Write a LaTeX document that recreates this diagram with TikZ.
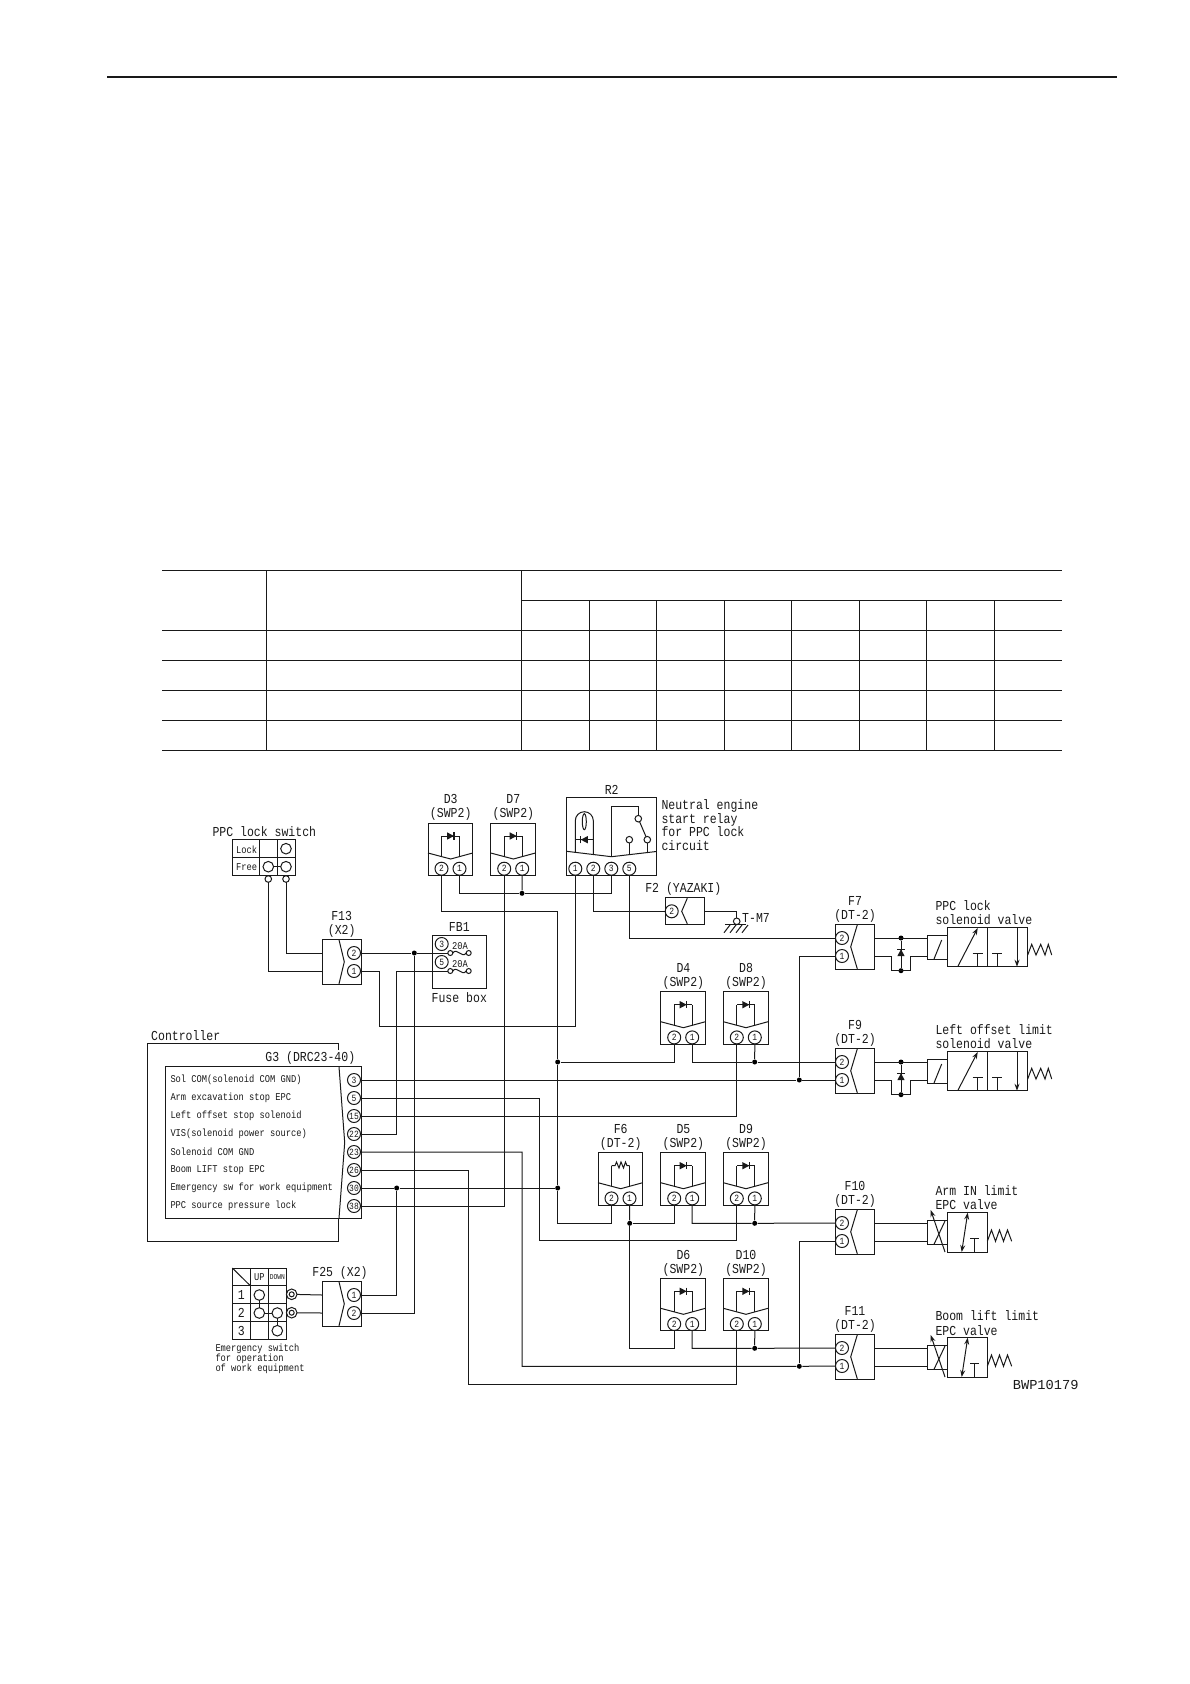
\documentclass[tikz,border=0pt]{standalone}
\usepackage{fontspec}
\usepackage{tikz}
\usetikzlibrary{arrows.meta}
\newfontfamily\gothicface[FakeStretch=0.84]{Liberation Mono}
\newfontfamily\codeface{Liberation Mono}
\newcommand{\lblfont}{\gothicface\fontsize{13.7}{14.2}\selectfont}
\newcommand{\smlfont}{\gothicface\fontsize{10.4}{10.2}\selectfont}
\newcommand{\pinfont}{\gothicface\fontsize{9.5}{10}\selectfont}
\newcommand{\tinyfont}{\gothicface\fontsize{7.5}{8}\selectfont}
\tikzset{
  >={Stealth[length=7pt, width=5pt, inset=2.5pt]},
  boxn/.style = {draw, rectangle, anchor=north west, inner sep=0pt, outer sep=0pt},
  pinc/.style = {draw, circle, inner sep=0pt, outer sep=0pt, minimum size=13pt, font=\pinfont},
  hole/.style = {draw, circle, inner sep=0pt, outer sep=0pt, minimum size=6.6pt},
  ring/.style = {draw, circle, inner sep=0pt, outer sep=0pt, minimum size=10.6pt},
  dotn/.style = {circle, fill=black, inner sep=0pt, minimum size=5pt},
  fusen/.style = {draw, circle, inner sep=0pt, outer sep=0pt, minimum size=5pt},
  lbl/.style = {font=\lblfont, inner sep=0pt, align=center},
  lbll/.style = {font=\lblfont, inner sep=0pt, align=left, anchor=west},
  sml/.style = {font=\smlfont, inner sep=0pt, align=left},
  diode/.pic = {\fill (-3.5,-3.7) -- (3.5,0) -- (-3.5,3.7) -- cycle; \draw[line width=1.2pt] (3.5,-3.7) -- (3.5,3.7);}
}
% two pin plug, pins on the right side of the box
\newcommand{\rconn}[5]{
  \begin{scope}[shift={(#2,#3)}]
    \node[boxn, minimum width=39pt, minimum height=45pt] (#1) at (0,0) {};
    \draw (17,0.5) -- (22.3,22.5) -- (17,44.5);
    \node[pinc] (#1p#4) at (32,13.7) {#4};
    \node[pinc] (#1p#5) at (32,31.7) {#5};
  \end{scope}
}
% two pin plug, pins on the left side of the box
\newcommand{\lconn}[3]{
  \begin{scope}[shift={(#2,#3)}]
    \node[boxn, minimum width=39pt, minimum height=45pt] (#1) at (0,0) {};
    \draw (22,0.5) -- (15.4,22.5) -- (22,44.5);
    \node[pinc] (#1p2) at (6.7,13.7) {2};
    \node[pinc] (#1p1) at (6.7,31.7) {1};
  \end{scope}
}
% plug-in block without its inner part
\newcommand{\plugbox}[4]{
  \begin{scope}[shift={(#2,#3)}]
    \node[boxn, minimum width=44.7pt, minimum height=52.3pt] (#1) at (0,0) {};
    \node[lbl] at (22.7,-15.3) {#4};
    \draw (0,30) -- (22.7,36) -- (44.7,30);
    \node[pinc] (#1p2) at (13.5,45.7) {2};
    \node[pinc] (#1p1) at (31.5,45.7) {1};
    \draw (13.5,33.6) -- (13.5,13) (31.5,33.6) -- (31.5,13);
  \end{scope}
}
\newcommand{\swpbox}[4]{
  \plugbox{#1}{#2}{#3}{#4\\(SWP2)}
  \begin{scope}[shift={(#2,#3)}]
    \draw (13.5,13) -- (31.5,13);
    \pic at (22.5,13) {diode};
  \end{scope}
}
% solenoid valve with two ports
\newcommand{\lockvalve}[2]{
  \begin{scope}[shift={(0,#2)}]
    \node[boxn, minimum width=19.6pt, minimum height=24pt] (#1sol) at (927.7,935) {};
    \node[boxn, minimum width=80.4pt, minimum height=39.4pt] (#1vlv) at (947.3,927.3) {};
    \draw (934,959) -- (941.7,940);
    \draw (987.3,927.3) -- (987.3,966.7);
    \draw[->] (957.7,966.7) -- (977.7,928);
    \draw (977.7,966.7) -- (977.7,953.3) (972.7,953.3) -- (982.7,953.3);
    \draw (997.3,966.7) -- (997.3,953.3) (992.3,953.3) -- (1002.3,953.3);
    \draw[->] (1017,927.3) -- (1017,966.7);
    \draw (1027.7,955) -- (1031.7,944.3) -- (1036,955) -- (1040.7,944.3) -- (1045,955) -- (1048.3,944.3) -- (1051.7,955);
    \node[dotn] (#1ja) at (901,938) {};
    \node[dotn] (#1jb) at (901,970.7) {};
    \coordinate (#1ca) at (891.7,956);
    \coordinate (#1cb) at (891.7,970.7);
    \coordinate (#1cc) at (910,970.7);
    \coordinate (#1cd) at (910,956);
    \draw (#1ja) -- (#1jb);
    \pic[rotate=90] at (901,952.7) {diode};
  \end{scope}
  \draw (#1p2 -| #1.east) -- (#1p2 -| #1sol.west);
  \draw (#1p1 -| #1.east) -- (#1ca) -- (#1cb) -- (#1cc) -- (#1cd) -- (#1p1 -| #1sol.west);
}
% EPC valve
\newcommand{\epcvalve}[2]{
  \begin{scope}[shift={(0,#2)}]
    \node[boxn, minimum width=20pt, minimum height=24pt] (#1sol) at (927.3,1220.3) {};
    \node[boxn, minimum width=40pt, minimum height=39.7pt] (#1vlv) at (947.3,1212.3) {};
    \draw[->] (945,1252) -- (930.7,1210);
    \draw (945,1221) -- (934,1244.3);
    \draw[<->] (961.7,1252) -- (967.7,1212.7);
    \draw (974.7,1252) -- (974.7,1238.3) (970,1238.3) -- (979,1238.3);
    \draw (987.3,1241.3) -- (991.5,1230) -- (995.5,1241.3) -- (999.5,1230) -- (1003.5,1241.3) -- (1007.5,1230) -- (1011.7,1241.3);
  \end{scope}
  \draw (#1p2 -| #1.east) -- (#1p2 -| #1sol.west);
  \draw (#1p1 -| #1.east) -- (#1p1 -| #1sol.west);
}

\begin{document}
\begin{tikzpicture}[x=1pt, y=-1pt, line width=1pt, color=black!90]
\useasboundingbox (0,0) rectangle (1190,1684);
% page rule and empty table
\draw[line width=1.2pt] (107,77) -- (1117,77);
\foreach \ty in {570.3,630.3,660.3,690.3,720.3,750.3}
  \draw (162,\ty) -- (1062,\ty);
\draw (521.3,600.4) -- (1062,600.4);
\foreach \tx in {266.7,521.3}
  \draw (\tx,570.3) -- (\tx,750.3);
\foreach \tx in {589.3,656.5,724.3,791.7,859.3,926.3,994.3}
  \draw (\tx,600.4) -- (\tx,750.3);

% PPC lock switch
\node[lbl] at (264.3,831.7) {PPC lock switch};
\node[boxn, minimum width=63pt, minimum height=36pt] (sw) at (232.3,839.3) {};
\draw (232.3,857.3) -- (295.3,857.3) (259.3,839.3) -- (259.3,875.3) (277.3,839.3) -- (277.3,875.3);
\node[sml] at (246.7,849.3) {Lock};
\node[sml] at (246.7,867) {Free};
\node[ring] (swa) at (286,848.7) {};
\node[ring] (swb) at (268.3,866.7) {};
\node[ring] (swc) at (286,866.7) {};
\draw (swb) -- (swc);
\node[hole] (swd) at (268.3,879) {};
\node[hole] (swe) at (286,879) {};

% connectors
\rconn{f13}{322}{939.3}{2}{1}
\node[lbl] at (341.7,924) {F13\\(X2)};
\rconn{f25}{322}{1281.3}{1}{2}
\node[lbl] at (340,1273.3) {F25 (X2)};
\lconn{f7}{835.3}{924.3}
\node[lbl] at (855,909) {F7\\(DT-2)};
\lconn{f9}{835.3}{1048.3}
\node[lbl] at (855,1033) {F9\\(DT-2)};
\lconn{f10}{835.3}{1209.3}
\node[lbl] at (855,1194) {F10\\(DT-2)};
\lconn{f11}{835.3}{1334.3}
\node[lbl] at (855,1319) {F11\\(DT-2)};

% diode blocks
\swpbox{d3}{428}{823}{D3}
\swpbox{d7}{490.7}{823}{D7}
\swpbox{d4}{660.7}{991.7}{D4}
\swpbox{d8}{723.3}{991.7}{D8}
\swpbox{d5}{660.7}{1152.7}{D5}
\swpbox{d9}{723.3}{1152.7}{D9}
\swpbox{d6}{660.7}{1278.3}{D6}
\swpbox{d10}{723.3}{1278.3}{D10}
\plugbox{f6}{598}{1152.7}{F6\\(DT-2)}
\draw (611.5,1165.7) -- (615,1165.7) -- (616.5,1162) -- (619,1168) -- (621,1162) -- (623.5,1168) -- (625.5,1162) -- (627,1165.7) -- (629.5,1165.7);

% relay R2
\node[lbl] at (611.7,790) {R2};
\node[boxn, minimum width=89.6pt, minimum height=77.6pt] (r2) at (566.7,797.7) {};
\draw (566.7,851.3) -- (611.5,856.7) -- (656.3,851.5);
\node[pinc] (r2p1) at (575.3,868.7) {1};
\node[pinc] (r2p2) at (593.3,868.7) {2};
\node[pinc] (r2p3) at (611.3,868.7) {3};
\node[pinc] (r2p5) at (629.3,868.7) {5};
\draw (575.3,852.5) -- (575.3,820.7) arc[start angle=180, end angle=360, x radius=9, y radius=9] -- (593.3,854.3);
\draw (584.3,821.7) ellipse[x radius=2, y radius=8];
\draw (575.3,839.7) -- (593.3,839.7);
\pic[rotate=180] at (584.3,839.7) {diode};
\node[hole] (r2a) at (638.3,818.7) {};
\node[hole] (r2b) at (647.3,839.7) {};
\node[hole] (r2c) at (629.3,839.7) {};
\draw (611.5,856.7) -- (611.5,806.7) -- (638.3,806.7) -- (r2a);
\draw (r2a) -- (r2b);
\draw (r2b) -- (647.3,852.3);
\draw (r2c) -- (629.3,854.5);
\node[lbll] at (661,825) {Neutral engine\\[-0.8pt]start relay\\[-0.8pt]for PPC lock\\[-0.8pt]circuit};

% relay F2 and earth
\node[lbl] at (683.3,889.3) {F2 (YAZAKI)};
\node[boxn, minimum width=39.3pt, minimum height=26.6pt] (f2) at (665,897.7) {};
\node[pinc] (f2p2) at (671.7,911.3) {2};
\draw (687.3,898.2) -- (681.7,911.3) -- (687.3,923.8);
\node[hole] (tm7) at (736.7,921.3) {};
\draw (725,924.8) -- (745.7,924.8);
\foreach \hx in {732,738,744,750}
  \draw (\hx-2,925) -- (\hx-8,932.7);
\node[lbll] at (741.7,917.7) {T-M7};

% fuse box
\node[lbl] at (459.3,926.7) {FB1};
\node[boxn, minimum width=53.6pt, minimum height=53.7pt] (fb1) at (432.7,935) {};
\node[lbl] at (459.3,997.3) {Fuse box};
\node[pinc] (fbp3) at (441.7,944) {3};
\node[pinc] (fbp5) at (441.7,962) {5};
\node[sml] at (460,946) {20A};
\node[sml] at (460,964) {20A};
\node[fusen] (fua) at (450.3,953) {};
\node[fusen] (fub) at (468.7,953) {};
\node[fusen] (fuc) at (450.3,971) {};
\node[fusen] (fud) at (468.7,971) {};
\draw (fua.east) .. controls +(4,-6) and +(-4,6) .. (fub.west);
\draw (fuc.east) .. controls +(4,-6) and +(-4,6) .. (fud.west);

% controller
\node[lbll] at (150.7,1036) {Controller};
\draw (338.7,1050) -- (338.7,1043.7) -- (147.3,1043.7) -- (147.3,1241) -- (338.7,1241) -- (338.7,1218.3);
\node[lbl] at (310.3,1058.3) {G3 (DRC23-40)};
\node[boxn, minimum width=195.7pt, minimum height=151.6pt] (g3) at (165.3,1066.7) {};
\draw (339,1066.7) -- (344.7,1142.5) -- (339,1218.3);
\foreach \pn/\gtxt [count=\gi from 0] in {3/Sol COM(solenoid COM GND), 5/Arm excavation stop EPC, 15/Left offset stop solenoid, 22/VIS(solenoid power source), 23/Solenoid COM GND, 26/Boom LIFT stop EPC, 30/Emergency sw for work equipment, 38/PPC source pressure lock}{
  \node[pinc] (gp\pn) at (354,{1080+18*\gi}) {\pn};
  \node[sml, anchor=west] at (170,{1080+18*\gi}) {\gtxt};
}

% emergency switch
\node[boxn, minimum width=54pt, minimum height=71.3pt] (es) at (232.3,1268) {};
\draw (232.3,1285.7) -- (286.3,1285.7) (232.3,1303.7) -- (286.3,1303.7) (232.3,1321.7) -- (286.3,1321.7);
\draw (250.3,1268) -- (250.3,1339.3) (268.3,1268) -- (268.3,1339.3);
\draw (232.3,1268) -- (250.3,1285.7);
\node[sml] at (259.3,1277.3) {UP};
\node[font=\tinyfont, inner sep=0pt] at (277.4,1277.3) {DOWN};
\foreach \en/\ey in {1/1295,2/1313,3/1331}
  \node[lbl] at (241.3,\ey) {\en};
\node[ring] (esa) at (259.3,1295) {};
\node[ring] (esb) at (259.3,1313) {};
\node[ring] (esc) at (277.3,1313) {};
\node[ring] (esd) at (277.3,1330.7) {};
\draw (esa) -- (esb);
\draw (esb) -- (esc);
\draw (esc) -- (esd);
\node[ring] (ese) at (291.7,1294.3) {};
\node[fusen] at (291.7,1294.3) {};
\node[ring] (esf) at (291.7,1312.7) {};
\node[fusen] at (291.7,1312.7) {};
\node[sml, anchor=north west] at (215,1343.3) {Emergency switch\\for operation\\of work equipment};

% valves
\lockvalve{f7}{0}
\lockvalve{f9}{124}
\epcvalve{f10}{0}
\epcvalve{f11}{125}
\node[lbll] at (935,912.5) {PPC lock\\solenoid valve};
\node[lbll] at (935,1036.5) {Left offset limit\\solenoid valve};
\node[lbll] at (935,1197.7) {Arm IN limit\\EPC valve};
\node[lbll] at (935,1323) {Boom lift limit\\EPC valve};
\node[font=\codeface\fontsize{13.7}{14}\selectfont, inner sep=0pt, anchor=west] (bwp) at (1012.3,1385) {BWP10179};

% junctions and bends
\node[dotn] (jf13) at (414.3,953) {};
\node[dotn] (jd7) at (522,893.3) {};
\node[dotn] (jbusa) at (557.7,1062) {};
\node[dotn] (jbusb) at (557.7,1188) {};
\node[dotn] (jg30) at (396.7,1188) {};
\node[dotn] (jd8) at (754.7,1062) {};
\node[dotn] (jg3) at (799.3,1080) {};
\node[dotn] (jf6) at (629.7,1223.3) {};
\node[dotn] (jd9) at (754.7,1223.3) {};
\node[dotn] (jd10) at (754.7,1348.3) {};
\node[dotn] (jf11) at (799.3,1366.3) {};
\coordinate (cfb) at (396.7,971);
\coordinate (cr2) at (379,1026);
\coordinate (cbusa) at (557.7,911.3);
\coordinate (cbusb) at (557.7,1223.3);
\coordinate (cg5) at (539.7,1240.7);
\coordinate (cg23) at (522,1366.3);
\coordinate (cg26) at (468.3,1384);
\coordinate (cd6) at (629.7,1348.3);

% wires
\draw (swd) |- (f13p1 -| f13.west);
\draw (swe) |- (f13p2 -| f13.west);
\draw (f13p2) -- (jf13) -- (fua);
\draw (jf13) |- (f25p2);
\draw (fuc) -- (cfb) |- (gp22);
\draw (r2p1) |- (cr2) |- (f13p1);
\draw (d3p2) |- (cbusa) -- (jbusa) -- (jbusb) -- (cbusb) -| (f6p2);
\draw (d3p1) |- (jd7) -| (r2p3);
\draw (d7p1) -- (jd7);
\draw (d7p2) |- (gp38);
\draw (r2p2) |- (f2p2);
\draw (r2p5) |- (f7p2);
\draw (f2) -| (tm7);
\draw (gp3) -- (jg3) -- (f9p1);
\draw (gp5) -| (cg5) -| (d9p2);
\draw (gp15) -| (d8p2);
\draw (gp23) -| (cg23) -- (jf11) -- (f11p1);
\draw (gp26) -| (cg26) -| (d10p2);
\draw (gp30) -- (jg30) -- (jbusb);
\draw (jg30) |- (f25p1);
\draw (ese) -- (f25p1 -| f25.west);
\draw (esf) -- (f25p2 -| f25.west);
\draw (d4p2) |- (jbusa);
\draw (d4p1) |- (jd8) -- (f9p2);
\draw (d8p1) -- (jd8);
\draw (f6p1) -- (jf6);
\draw (d5p2) |- (jf6);
\draw (jf6) -- (cd6) -| (d6p2);
\draw (d5p1) |- (jd9) -- (f10p2);
\draw (d9p1) -- (jd9);
\draw (d6p1) |- (jd10) -- (f11p2);
\draw (d10p1) -- (jd10);
\draw (f7p1) -| (jg3);
\draw (jf11) |- (f10p1);
\end{tikzpicture}
\end{document}
